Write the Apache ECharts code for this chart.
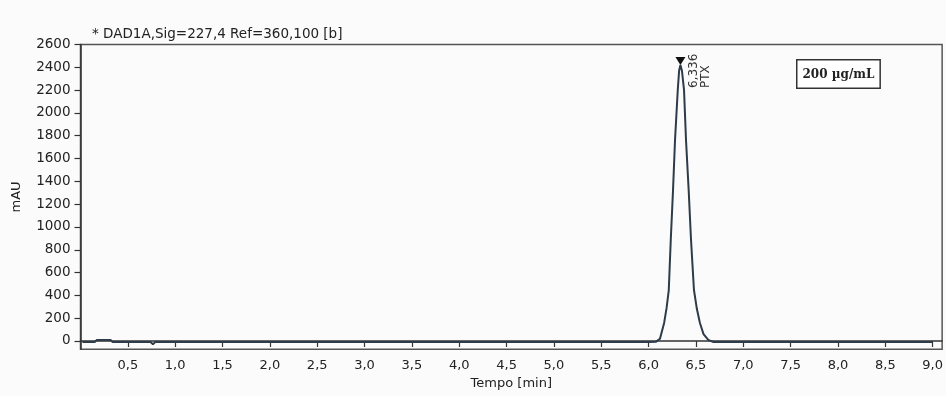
<!DOCTYPE html>
<html>
<head>
<meta charset="utf-8">
<script src="https://cdn.jsdelivr.net/npm/echarts@6/dist/echarts.min.js"></script>
<style>
html,body{margin:0;padding:0;background:#fbfbfb;}
#chart{width:946px;height:396px;}
</style>
</head>
<body>
<div id="chart"></div>
<script>
// Retention time (min)
var times = [0.02, 0.15, 0.17, 0.32, 0.34, 0.74, 0.765, 0.79, 6.0, 6.08, 6.12, 6.164, 6.19, 6.213, 6.234, 6.258, 6.279, 6.308, 6.322, 6.336, 6.352, 6.374, 6.395, 6.423, 6.448, 6.479, 6.51, 6.542, 6.58, 6.63, 6.68, 9.0];
// Signal (mAU)
var signal = [-10, -10, 8, 8, -10, -10, -28, -10, -10, -6, 20, 158, 290, 447, 886, 1325, 1763, 2202, 2370, 2420, 2370, 2202, 1763, 1325, 886, 447, 280, 158, 60, 9, -8, -10];
var xTicks = [0.5, 1.0, 1.5, 2.0, 2.5, 3.0, 3.5, 4.0, 4.5, 5.0, 5.5, 6.0, 6.5, 7.0, 7.5, 8.0, 8.5, 9.0];
var yTicks = [0, 200, 400, 600, 800, 1000, 1200, 1400, 1600, 1800, 2000, 2200, 2400, 2600];
var peakTime = [6.336];
var peakHeight = [2420];
var peakName = ['PTX'];
var titleText = '* DAD1A,Sig=227,4 Ref=360,100 [b]';
var concText = '200 µg/mL';

var data = times.map(function (t, i) { return [t, signal[i]]; });
var font = 'DejaVu Sans';
var chart = echarts.init(document.getElementById('chart'), null, {renderer: 'canvas'});
chart.setOption({
  backgroundColor: '#fbfbfb',
  animation: false,
  title: {
    text: titleText, left: 87, top: 22,
    textStyle: {fontFamily: font, fontSize: 13.5, fontWeight: 'normal', color: '#222'}
  },
  grid: {left: 80.5, right: -1, top: 44.5, bottom: 46.7, show: true, borderColor: '#555', borderWidth: 1.5, backgroundColor: 'transparent'},
  xAxis: {
    type: 'value', min: 0, max: 9.1,
    name: 'Tempo [min]', nameLocation: 'middle', nameGap: 27,
    nameTextStyle: {fontFamily: font, fontSize: 13, color: '#222'},
    axisLine: {show: true, lineStyle: {color: '#333', width: 1.5}},
    axisTick: {show: true, length: 6, customValues: xTicks, lineStyle: {color: '#333', width: 1.2}},
    axisLabel: {customValues: xTicks, margin: 10, fontFamily: font, fontSize: 13, color: '#222',
      formatter: function (v) { return v.toFixed(1).replace('.', ','); }},
    splitLine: {show: false}
  },
  yAxis: {
    type: 'value', min: -73, max: 2600,
    name: 'mAU', nameLocation: 'middle', nameGap: 57,
    nameTextStyle: {fontFamily: font, fontSize: 13, color: '#222'},
    axisLine: {show: true, lineStyle: {color: '#333', width: 1.5}},
    axisTick: {show: true, length: 6, customValues: yTicks, lineStyle: {color: '#333', width: 1.2}},
    axisLabel: {customValues: yTicks, margin: 10, fontFamily: font, fontSize: 13.5, color: '#222',
      formatter: function (v) { return String(v); }},
    splitLine: {show: false}
  },
  graphic: [{
    type: 'text', left: 796, top: 59,
    style: {text: concText, font: 'bold 12px "DejaVu Serif"', fill: '#222',
      borderColor: '#333', borderWidth: 1.5, padding: [8, 5, 7, 5], backgroundColor: '#fff'}
  }],
  series: [{
    type: 'line', data: data, showSymbol: false, smooth: false,
    lineStyle: {color: '#2e3b48', width: 2},
    markPoint: {
      symbol: 'triangle', symbolRotate: 180, symbolSize: [10, 8], symbolOffset: [0, -4],
      itemStyle: {color: '#111'},
      label: {show: true, position: 'inside', rotate: 90, align: 'left', verticalAlign: 'middle',
        offset: [-27, 19], fontFamily: font, fontSize: 12, lineHeight: 12, color: '#333',
        formatter: function (p) { return String(peakTime[0]).replace('.', ',') + '\n' + peakName[0]; }},
      data: [{coord: [peakTime[0], peakHeight[0]]}]
    }
  }]
});
</script>
</body>
</html>
